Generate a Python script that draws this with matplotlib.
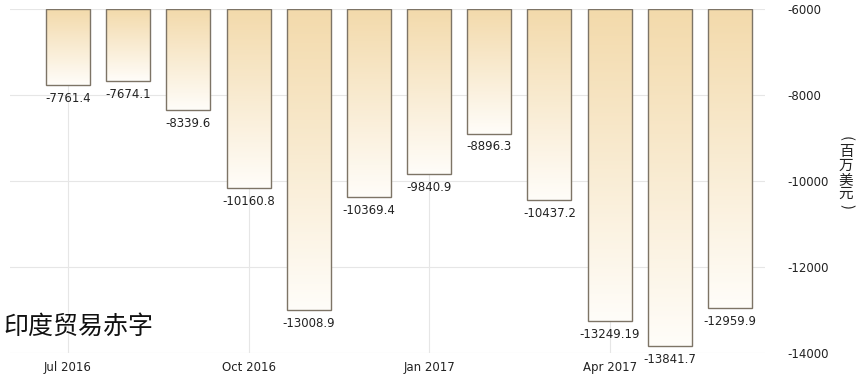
import matplotlib
matplotlib.use("Agg")
import matplotlib.pyplot as plt
import numpy as np
from matplotlib.colors import LinearSegmentedColormap

plt.rcParams['font.family'] = ['DejaVu Sans', 'Noto Sans CJK SC']

months = ["Jul 2016", "Aug 2016", "Sep 2016", "Oct 2016", "Nov 2016", "Dec 2016",
          "Jan 2017", "Feb 2017", "Mar 2017", "Apr 2017", "May 2017", "Jun 2017"]
values = [-7761.4, -7674.1, -8339.6, -10160.8, -13008.9, -10369.4,
          -9840.9, -8896.3, -10437.2, -13249.19, -13841.7, -12959.9]
labels = ["-7761.4", "-7674.1", "-8339.6", "-10160.8", "-13008.9", "-10369.4",
          "-9840.9", "-8896.3", "-10437.2", "-13249.19", "-13841.7", "-12959.9"]
tick_idx = [0, 3, 6, 9]
tick_labels = ["Jul 2016", "Oct 2016", "Jan 2017", "Apr 2017"]
yticks = [-6000, -8000, -10000, -12000, -14000]
base = -6000
title = "印度贸易赤字"
ylabel_chars = ["(", "百", "万", "美", "元", ")"]

W, H = 861, 385
fig = plt.figure(figsize=(W / 100, H / 100), dpi=100)
ax = fig.add_axes([10 / W, (H - 353) / H, (765 - 10) / W, (353 - 9) / H])

x = np.arange(len(values))
ax.set_xlim(-58 / 60.2, len(values) - 1 + 35 / 60.2)
ax.set_ylim(-14000, -6000)

cmap = LinearSegmentedColormap.from_list("g", ["#fffdf9", "#f3daab"])
grad = np.linspace(0, 1, 256).reshape(-1, 1)

bars = ax.bar(x, [v - base for v in values], bottom=base, width=0.73,
              color="none", edgecolor="#7d7466", linewidth=1.0, zorder=3)
for b in bars:
    x0, w = b.get_x(), b.get_width()
    y_top = base
    y_bot = b.get_y() + b.get_height()
    im = ax.imshow(grad, extent=[x0, x0 + w, y_bot, y_top], origin="lower",
                   cmap=cmap, aspect="auto", zorder=2, interpolation="bilinear")
    im.set_clip_path(b)

for xi, v, lab in zip(x, values, labels):
    ax.annotate(lab, (xi, v), xytext=(0, -5), textcoords="offset points",
                ha="center", va="top", fontsize=8.5, color="#222222", zorder=5)

ax.set_xticks(tick_idx)
ax.set_xticklabels(tick_labels, fontsize=8.5, color="#222222")
ax.tick_params(axis="x", length=0, pad=6)
ax.yaxis.tick_right()
ax.set_yticks(yticks)
ax.set_yticklabels([str(t) for t in yticks], fontsize=8.5, color="#222222", ha="left")
ax.tick_params(axis="y", length=0, pad=16)

ax.grid(True, color="#e6e6e6", linewidth=0.8, zorder=0)
ax.set_axisbelow(True)
for s in ax.spines.values():
    s.set_visible(False)

ypix = [139, 152, 166, 180, 194, 207]
for ch, yp in zip(ylabel_chars, ypix):
    rot = -90 if ch in "()" else 0
    fig.text(846 / W, 1 - yp / H, ch, ha="center", va="center", rotation=rot,
             fontsize=10.5, family=["Noto Sans CJK SC", "DejaVu Sans"], color="#222222")

fig.text(3 / W, 1 - 327 / H, title, ha="left", va="center", fontsize=18,
         family=["Noto Sans CJK SC", "DejaVu Sans"], color="#111111")

fig.savefig("out.png", dpi=100)
